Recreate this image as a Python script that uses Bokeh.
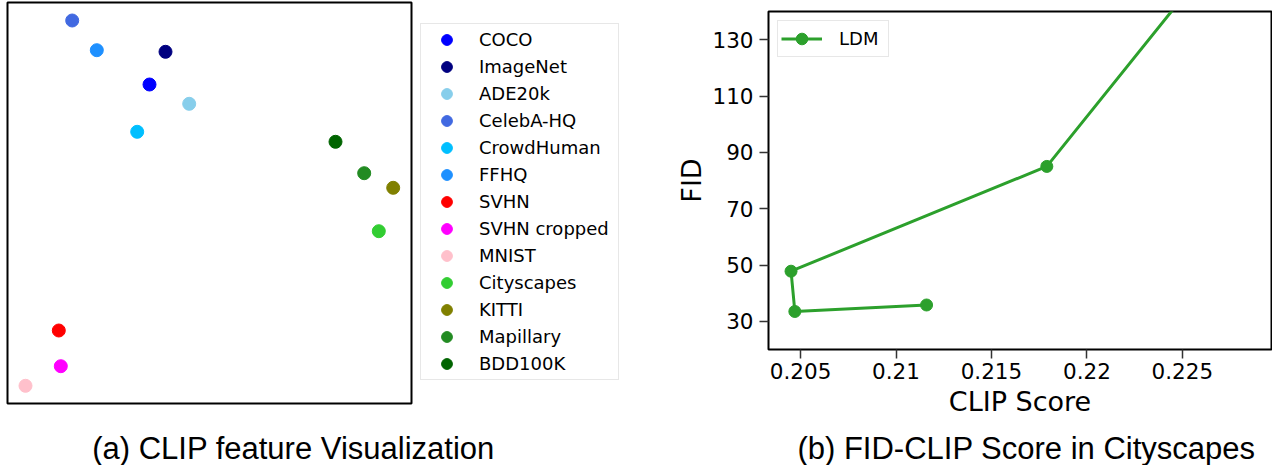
from bokeh.plotting import figure
from bokeh.models import Legend, LegendItem, Label, FixedTicker, Range1d
from bokeh.layouts import row, column
from bokeh.embed import file_html
from bokeh.resources import INLINE

# ---- panel (a): CLIP feature visualization ----
datasets = ["COCO", "ImageNet", "ADE20k", "CelebA-HQ", "CrowdHuman", "FFHQ", "SVHN",
            "SVHN cropped", "MNIST", "Cityscapes", "KITTI", "Mapillary", "BDD100K"]
feat_x = [14.2, 15.8, 18.17, 6.47, 12.97, 8.93, 5.13, 5.33, 1.8, 37.13, 38.57, 35.67, 32.8]
feat_y = [31.9, 35.17, 29.97, 38.3, 27.17, 35.33, 7.3, 3.73, 1.77, 17.23, 21.57, 23.03, 26.17]
colors = ["blue", "navy", "skyblue", "royalblue", "deepskyblue", "dodgerblue", "red",
          "magenta", "pink", "limegreen", "olive", "forestgreen", "darkgreen"]

# ---- panel (b): FID vs CLIP score ----
clip_score = [0.2116, 0.2047, 0.2045, 0.2179, 0.2268]
fid = [35.8, 33.5, 47.8, 85.0, 160.0]
x_ticks = [0.205, 0.21, 0.215, 0.22, 0.225]
x_tick_labels = ["0.205", "0.21", "0.215", "0.22", "0.225"]
y_ticks = [30, 50, 70, 90, 110, 130]

caption_a = "(a) CLIP feature Visualization"
caption_b = "(b) FID-CLIP Score in Cityscapes"

FONT = "DejaVu Sans"
ROW_H = 428

# scatter panel
p1 = figure(width=413, height=ROW_H, x_range=Range1d(0, 40.4), y_range=Range1d(0, 40.1),
            x_axis_location=None, y_axis_location=None, toolbar_location=None,
            output_backend="svg", min_border_left=7, min_border_right=2,
            min_border_top=2, min_border_bottom=ROW_H - 403)
p1.grid.visible = False
p1.outline_line_color = "black"
p1.outline_line_width = 2
for x, y, c in zip(feat_x, feat_y, colors):
    p1.scatter(x=[x], y=[y], size=13, fill_color=c, line_color=c)

# legend panel for (a): same points, kept outside this panel's visible range
p_leg = figure(width=255, height=ROW_H, x_axis_location=None, y_axis_location=None,
               toolbar_location=None, output_backend="svg", min_border=0,
               x_range=Range1d(1000, 1001), y_range=Range1d(1000, 1001))
p_leg.grid.visible = False
p_leg.outline_line_color = None
items = []
for name, x, y, c in zip(datasets, feat_x, feat_y, colors):
    r = p_leg.scatter(x=[x], y=[y], size=13, fill_color=c, line_color=c)
    items.append(LegendItem(label=name, renderers=[r]))
leg1 = Legend(items=items, location=(7, ROW_H - 380), margin=0, padding=2, spacing=0,
              glyph_width=47, glyph_height=27, label_height=26, label_width=137,
              label_standoff=9, label_text_font=FONT, label_text_font_size="18px",
              label_text_color="black", border_line_color="#d0d0d0",
              border_line_width=1.5, background_fill_color="white")
p_leg.add_layout(leg1, "center")

# FID / CLIP panel
p2 = figure(width=604, height=ROW_H, x_range=Range1d(0.20332, 0.22967), y_range=Range1d(20, 140),
            toolbar_location=None, output_backend="svg", min_border_left=100,
            min_border_right=1, min_border_top=11, min_border_bottom=ROW_H - 349)
p2.grid.visible = False
p2.outline_line_color = "black"
p2.outline_line_width = 2

p2.line(clip_score, fid, line_color="#2ca02c", line_width=3, legend_label="LDM")
p2.scatter(clip_score, fid, size=12, fill_color="#2ca02c", line_color="#2ca02c", legend_label="LDM")

p2.xaxis.ticker = FixedTicker(ticks=x_ticks)
p2.xaxis.major_label_overrides = {t: l for t, l in zip(x_ticks, x_tick_labels)}
p2.yaxis.ticker = FixedTicker(ticks=y_ticks)
for ax in (p2.xaxis, p2.yaxis):
    ax.axis_line_color = None
    ax.major_tick_out = 9
    ax.major_tick_in = 0
    ax.major_tick_line_width = 1.5
    ax.major_tick_line_color = "#333333"
    ax.minor_tick_line_color = None
    ax.major_label_text_font = FONT
    ax.major_label_text_font_size = "21.5px"
    ax.major_label_text_color = "black"
    ax.axis_label_text_font = FONT
    ax.axis_label_text_font_size = "27px"
    ax.axis_label_text_font_style = "normal"
    ax.axis_label_text_color = "black"
p2.xaxis.axis_label = "CLIP Score"
p2.yaxis.axis_label = "FID"
p2.xaxis.major_label_standoff = 4
p2.yaxis.major_label_standoff = 6
p2.xaxis.axis_label_standoff = 4
p2.yaxis.axis_label_standoff = 2

lg = p2.legend[0]
lg.location = "top_left"
lg.margin = 9
lg.padding = 3
lg.spacing = 0
lg.glyph_width = 41
lg.glyph_height = 29
lg.label_height = 29
lg.label_width = 46
lg.label_standoff = 17
lg.label_text_font = FONT
lg.label_text_font_size = "18px"
lg.label_text_color = "black"
lg.border_line_color = "#d0d0d0"
lg.border_line_width = 1.5

# caption strip
CAP_H = 465 - ROW_H
p_cap = figure(width=1272, height=CAP_H, x_range=Range1d(0, 1272), y_range=Range1d(0, CAP_H),
               x_axis_location=None, y_axis_location=None, toolbar_location=None,
               output_backend="svg", min_border=0)
p_cap.grid.visible = False
p_cap.outline_line_color = None
for cx, txt in ((293, caption_a), (1026, caption_b)):
    p_cap.add_layout(Label(x=cx, y=17, text=txt, text_align="center", text_baseline="alphabetic",
                           text_font="Liberation Sans", text_font_size="31px", text_color="black"))

for fig in (p1, p_leg, p2, p_cap):
    fig.frame_align = False

layout = column(row(p1, p_leg, p2), p_cap)
open("out.html", "w").write(file_html(layout, INLINE))
